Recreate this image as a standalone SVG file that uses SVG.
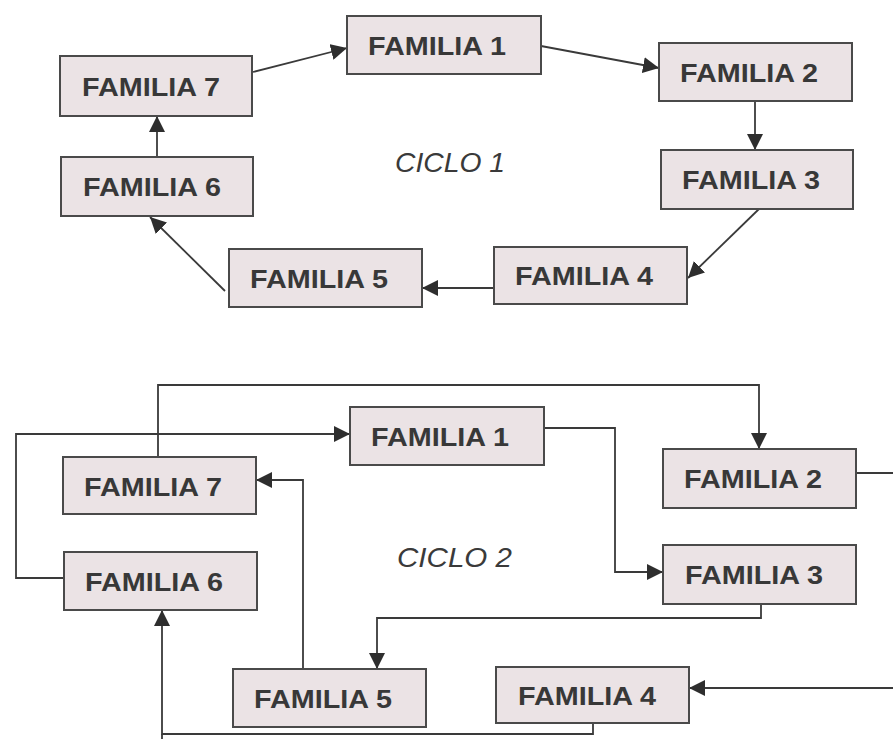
<svg xmlns="http://www.w3.org/2000/svg" width="893" height="739" viewBox="0 0 893 739">
<style>
.box rect{fill:#ebe3e5;stroke:#4a4a4a;stroke-width:2}
.box text{font-family:"Liberation Sans",Arial,sans-serif;font-size:25px;font-weight:bold;fill:#383838}
.title{font-family:"Liberation Sans",Arial,sans-serif;font-size:28px;font-style:italic;fill:#3a3a3a}
.conn path{fill:none;stroke:#3a3a3a;stroke-width:1.8;marker-end:url(#arr)}
.conn path.plain{marker-end:none}
</style>
<defs>
<marker id="arr" markerUnits="userSpaceOnUse" markerWidth="18" markerHeight="16" refX="16" refY="8" orient="auto">
<path d="M0,0 L16,8 L0,16 z" fill="#2e2e2e"/>
</marker>
</defs>
<rect width="893" height="739" fill="#ffffff"/>
<g class="conn" id="connectors">
<path d="M253,72 L347,48"/>
<path d="M541,46 L659,68"/>
<path d="M755,101 L755,150"/>
<path d="M759,209 L688,278"/>
<path d="M494,288 L422,288"/>
<path d="M225,291 L150,217"/>
<path d="M157,157 L157,116"/>
<path d="M158,457 V385 H759 V449"/>
<path d="M64,578 H16 V434 H350"/>
<path d="M544,428 H615 V572 H663"/>
<path d="M761,604 V618 H377 V669"/>
<path d="M303,669 V480 H256"/>
<path class="plain" d="M856,473 H893"/>
<path d="M893,688 H689"/>
<path d="M593,723 V734 H162 V610"/>
<path class="plain" d="M162,734 V739"/>
</g>
<text class="title" x="395" y="172" textLength="110" lengthAdjust="spacingAndGlyphs">CICLO 1</text>
<text class="title" x="397" y="567" textLength="115" lengthAdjust="spacingAndGlyphs">CICLO 2</text>
<g class="box" id="c1-familia1"><rect x="347" y="16" width="194" height="58"/><text x="368" y="55" textLength="138" lengthAdjust="spacingAndGlyphs">FAMILIA 1</text></g>
<g class="box" id="c1-familia2"><rect x="659" y="43" width="193" height="58"/><text x="680" y="82" textLength="138" lengthAdjust="spacingAndGlyphs">FAMILIA 2</text></g>
<g class="box" id="c1-familia3"><rect x="661" y="150" width="192" height="59"/><text x="682" y="189" textLength="138" lengthAdjust="spacingAndGlyphs">FAMILIA 3</text></g>
<g class="box" id="c1-familia4"><rect x="494" y="247" width="193" height="57"/><text x="515" y="285" textLength="138" lengthAdjust="spacingAndGlyphs">FAMILIA 4</text></g>
<g class="box" id="c1-familia5"><rect x="229" y="249" width="193" height="58"/><text x="250" y="288" textLength="138" lengthAdjust="spacingAndGlyphs">FAMILIA 5</text></g>
<g class="box" id="c1-familia6"><rect x="61" y="157" width="192" height="59"/><text x="83" y="196" textLength="138" lengthAdjust="spacingAndGlyphs">FAMILIA 6</text></g>
<g class="box" id="c1-familia7"><rect x="60" y="56" width="192" height="60"/><text x="82" y="96" textLength="138" lengthAdjust="spacingAndGlyphs">FAMILIA 7</text></g>
<g class="box" id="c2-familia1"><rect x="350" y="407" width="194" height="58"/><text x="371" y="446" textLength="138" lengthAdjust="spacingAndGlyphs">FAMILIA 1</text></g>
<g class="box" id="c2-familia2"><rect x="663" y="449" width="193" height="59"/><text x="684" y="488" textLength="138" lengthAdjust="spacingAndGlyphs">FAMILIA 2</text></g>
<g class="box" id="c2-familia3"><rect x="663" y="545" width="193" height="59"/><text x="685" y="584" textLength="138" lengthAdjust="spacingAndGlyphs">FAMILIA 3</text></g>
<g class="box" id="c2-familia4"><rect x="496" y="667" width="193" height="56"/><text x="518" y="705" textLength="138" lengthAdjust="spacingAndGlyphs">FAMILIA 4</text></g>
<g class="box" id="c2-familia5"><rect x="233" y="669" width="193" height="58"/><text x="254" y="708" textLength="138" lengthAdjust="spacingAndGlyphs">FAMILIA 5</text></g>
<g class="box" id="c2-familia6"><rect x="64" y="552" width="193" height="58"/><text x="85" y="591" textLength="138" lengthAdjust="spacingAndGlyphs">FAMILIA 6</text></g>
<g class="box" id="c2-familia7"><rect x="63" y="457" width="193" height="57"/><text x="84" y="496" textLength="138" lengthAdjust="spacingAndGlyphs">FAMILIA 7</text></g>
</svg>
